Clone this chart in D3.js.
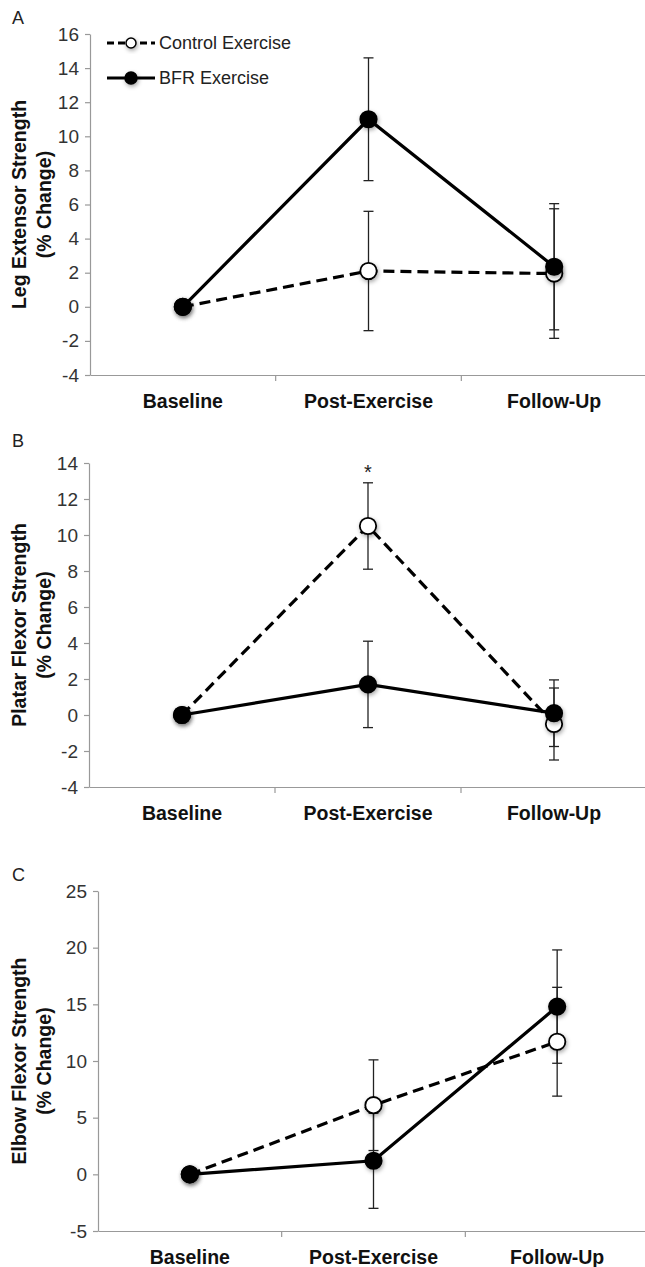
<!DOCTYPE html>
<html>
<head>
<meta charset="utf-8">
<script src="https://cdn.jsdelivr.net/npm/d3@7"></script>
<style>
  body { margin: 0; background: #fff; }
  svg { display: block; }
  text { font-family: "Liberation Sans", Arial, Helvetica, sans-serif; }
</style>
</head>
<body>
<svg id="chart" width="645" height="1267"></svg>
<script>
// Time points shared by all three panels
const categories = ["Baseline", "Post-Exercise", "Follow-Up"];
const seriesNames = ["Control Exercise", "BFR Exercise"];

// Panel A: leg extensor strength (% change), mean and error
const legControl = [0, 2.1, 1.95];
const legControlErr = [0, 3.5, 3.8];
const legBFR = [0, 11.0, 2.35];
const legBFRErr = [0, 3.6, 3.7];
const legTicks = [-4, -2, 0, 2, 4, 6, 8, 10, 12, 14, 16];

// Panel B: plantar flexor strength (% change)
const plantarControl = [0, 10.5, -0.5];
const plantarControlErr = [0, 2.4, 2.0];
const plantarBFR = [0, 1.7, 0.1];
const plantarBFRErr = [0, 2.4, 1.85];
const plantarTicks = [-4, -2, 0, 2, 4, 6, 8, 10, 12, 14];
const plantarAsterisk = 13.7; // significance mark above Post-Exercise

// Panel C: elbow flexor strength (% change)
const elbowControl = [0, 6.1, 11.7];
const elbowControlErr = [0, 4.0, 4.8];
const elbowBFR = [0, 1.2, 14.8];
const elbowBFRErr = [0, 4.2, 5.0];
const elbowTicks = [-5, 0, 5, 10, 15, 20, 25];

const svg = d3.select("#chart");
svg.append("rect").attr("width", 645).attr("height", 1267).attr("fill", "#fff");

// soft shadow under the markers
const defs = svg.append("defs");
const f = defs.append("filter").attr("id", "mshadow")
  .attr("x", "-60%").attr("y", "-60%").attr("width", "220%").attr("height", "220%");
f.append("feDropShadow").attr("dx", 1).attr("dy", 2).attr("stdDeviation", 2)
  .attr("flood-color", "#000").attr("flood-opacity", 0.35);

const panels = [
  {
    letter: "A", letterY: 24,
    title: ["Leg Extensor Strength", "(% Change)"],
    ticks: legTicks, xRange: [90, 647], yRange: [375, 34],
    control: legControl, controlErr: legControlErr,
    bfr: legBFR, bfrErr: legBFRErr, legend: true
  },
  {
    letter: "B", letterY: 447,
    title: ["Platar Flexor Strength", "(% Change)"],
    ticks: plantarTicks, xRange: [89, 647], yRange: [787, 463],
    control: plantarControl, controlErr: plantarControlErr,
    bfr: plantarBFR, bfrErr: plantarBFRErr, asterisk: plantarAsterisk
  },
  {
    letter: "C", letterY: 881,
    title: ["Elbow Flexor Strength", "(% Change)"],
    ticks: elbowTicks, xRange: [98, 649], yRange: [1231, 891],
    control: elbowControl, controlErr: elbowControlErr,
    bfr: elbowBFR, bfrErr: elbowBFRErr
  }
];

const axisColor = "#999";

panels.forEach(p => {
  const g = svg.append("g");
  const x = d3.scaleBand().domain(categories).range(p.xRange).padding(0);
  const y = d3.scaleLinear().domain(d3.extent(p.ticks)).range(p.yRange);
  const cx = c => x(c) + x.bandwidth() / 2;

  // panel letter
  g.append("text").attr("x", 12).attr("y", p.letterY)
    .attr("font-size", 18).attr("fill", "#222").text(p.letter);

  // y axis
  const ya = g.append("g").attr("transform", `translate(${p.xRange[0]},0)`)
    .call(d3.axisLeft(y).tickValues(p.ticks).tickSize(5).tickSizeOuter(0)
      .tickPadding(6).tickFormat(d => String(d)));
  ya.select(".domain").attr("stroke", axisColor).attr("stroke-width", 1.2);
  ya.selectAll(".tick line").attr("stroke", axisColor).attr("stroke-width", 1.2);
  ya.selectAll(".tick text").attr("font-size", 19).attr("fill", "#333")
    .attr("font-family", "Liberation Sans, Arial, sans-serif");

  // x axis with tick marks between categories
  const xa = g.append("g").attr("transform", `translate(0,${p.yRange[0]})`)
    .call(d3.axisBottom(x).tickSize(0).tickSizeOuter(0).tickPadding(19));
  xa.select(".domain").attr("stroke", axisColor).attr("stroke-width", 1.2);
  xa.selectAll(".tick text").attr("font-size", 19.5).attr("font-weight", "bold")
    .attr("fill", "#111").attr("font-family", "Liberation Sans, Arial, sans-serif");
  xa.selectAll(".sep").data(categories.slice(1)).enter().append("line")
    .attr("class", "sep")
    .attr("x1", c => x(c)).attr("x2", c => x(c))
    .attr("y1", 0).attr("y2", 6)
    .attr("stroke", axisColor).attr("stroke-width", 1.2);

  // y axis title, two rotated lines
  const midY = (p.yRange[0] + p.yRange[1]) / 2;
  p.title.forEach((t, i) => {
    g.append("text")
      .attr("transform", `translate(${26 + i * 25},${midY}) rotate(-90)`)
      .attr("text-anchor", "middle").attr("font-size", 19.5)
      .attr("font-weight", "bold").attr("fill", "#111").text(t);
  });

  const series = [
    { vals: p.control, err: p.controlErr, dash: "11,6", fill: "#fff" },
    { vals: p.bfr, err: p.bfrErr, dash: null, fill: "#000" }
  ];

  // error bars
  series.forEach(s => {
    const eb = g.append("g");
    categories.forEach((c, i) => {
      if (!s.err[i]) return;
      const hi = y(s.vals[i] + s.err[i]), lo = y(s.vals[i] - s.err[i]);
      eb.append("line").attr("x1", cx(c)).attr("x2", cx(c)).attr("y1", hi).attr("y2", lo)
        .attr("stroke", "#222").attr("stroke-width", 1.3);
      [hi, lo].forEach(v => eb.append("line")
        .attr("x1", cx(c) - 5).attr("x2", cx(c) + 5).attr("y1", v).attr("y2", v)
        .attr("stroke", "#222").attr("stroke-width", 1.3));
    });
  });

  // connecting lines
  const line = d3.line().x((d, i) => cx(categories[i])).y(d => y(d));
  series.forEach(s => {
    g.append("path").datum(s.vals).attr("d", line)
      .attr("fill", "none").attr("stroke", "#000").attr("stroke-width", 3.2)
      .attr("stroke-dasharray", s.dash);
  });

  // markers
  series.forEach(s => {
    g.append("g").attr("filter", "url(#mshadow)").selectAll("circle")
      .data(s.vals).enter().append("circle")
      .attr("cx", (d, i) => cx(categories[i])).attr("cy", d => y(d)).attr("r", 8.2)
      .attr("fill", s.fill).attr("stroke", "#000").attr("stroke-width", 1.8);
  });

  if (p.asterisk !== undefined) {
    g.append("text").attr("x", cx(categories[1])).attr("y", y(p.asterisk) + 11)
      .attr("text-anchor", "middle").attr("font-size", 20).attr("fill", "#222").text("*");
  }

  if (p.legend) {
    const lg = g.append("g");
    const rows = [
      { name: seriesNames[0], y: 43, dash: "7,4", fill: "#fff", r: 5 },
      { name: seriesNames[1], y: 78, dash: null, fill: "#000", r: 6 }
    ];
    rows.forEach(r => {
      lg.append("line").attr("x1", 107).attr("x2", 155).attr("y1", r.y).attr("y2", r.y)
        .attr("stroke", "#000").attr("stroke-width", 3).attr("stroke-dasharray", r.dash);
      lg.append("circle").attr("cx", 131).attr("cy", r.y).attr("r", r.r)
        .attr("fill", r.fill).attr("stroke", "#000").attr("stroke-width", 1.5)
        .attr("filter", "url(#mshadow)");
      lg.append("text").attr("x", 159).attr("y", r.y).attr("dy", "0.35em")
        .attr("font-size", 18).attr("fill", "#222").text(r.name);
    });
  }
});
</script>
</body>
</html>
